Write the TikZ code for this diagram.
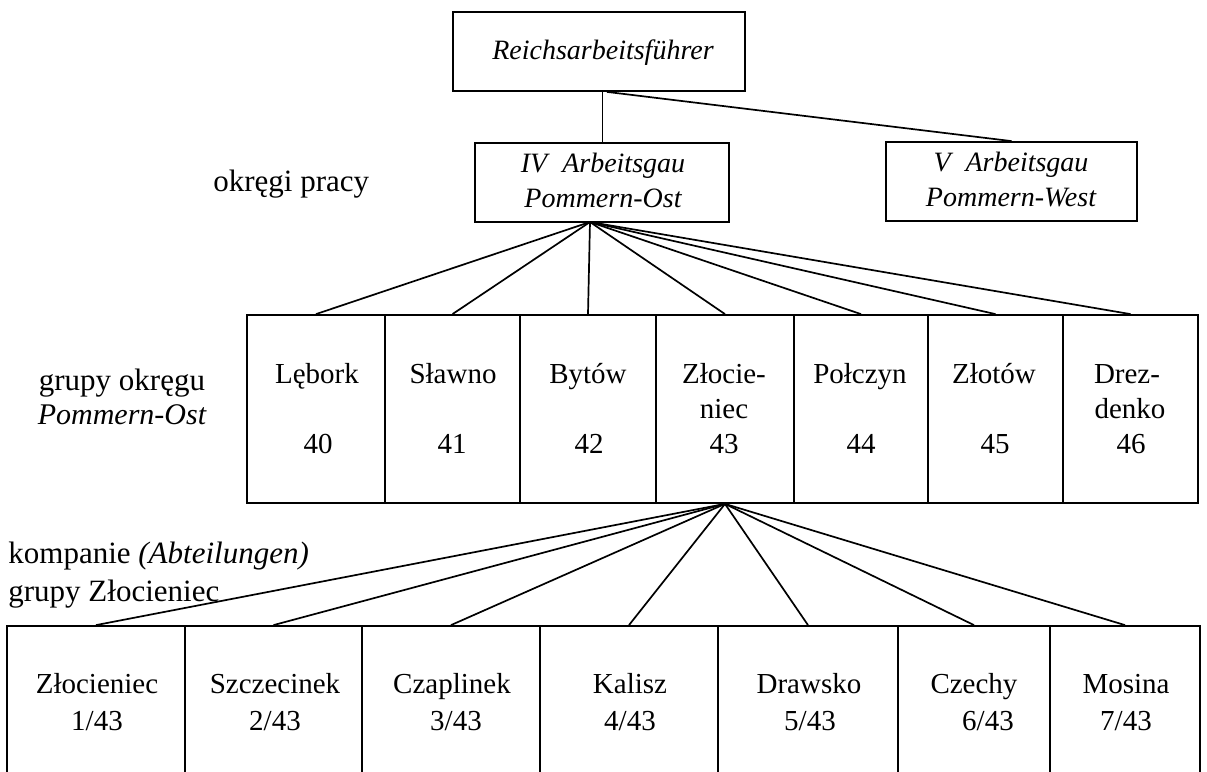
\documentclass[tikz,border=0pt]{standalone}
\usepackage{fontspec}
\setmainfont{Liberation Serif}
\begin{document}
\begin{tikzpicture}[x=0.5pt,y=-0.5pt,
  box/.style={draw,line width=0.9pt,inner sep=0pt,rectangle},
  con/.style={line width=0.85pt},
  thincon/.style={line width=0.5pt},
  itl/.style={font=\fontsize{14}{17.5}\selectfont\itshape,align=center,inner sep=0pt},
  lbl/.style={font=\fontsize{15.5}{17.5}\selectfont,inner sep=0pt},
  ct/.style={font=\fontsize{14.5}{17.5}\selectfont,inner sep=0pt,anchor=base},
]
\useasboundingbox (0,0) rectangle (1207,772);
\clip (0,0) rectangle (1207,772);

% top boxes
\node[box,minimum width=146pt,minimum height=39.5pt] (rf) at (599,51.5) {};
\node[itl] (rft) at (603,53) {Reichsarbeitsführer};
\node[box,minimum width=127pt,minimum height=39.5pt] (iv) at (602,182.5) {};
\node[itl] (ivt) at (603,180) {IV\hspace{4pt} Arbeitsgau\\Pommern-Ost};
\node[box,minimum width=125.5pt,minimum height=39.5pt] (v) at (1011.5,181.5) {};
\node[itl] (vt) at (1011,179) {V\hspace{4pt} Arbeitsgau\\Pommern-West};

% group row cells
\foreach \n/\c/\w in {g1/316/69pt,g2/452.5/67.5pt,g3/588/68pt,g4/725/69pt,g5/861/67pt,g6/995.5/67.5pt,g7/1130.5/67.5pt}
  \node[box,minimum width=\w,minimum height=94pt] (\n) at (\c,409) {};

% group texts
\node[ct] (g1a) at (317,383) {Lębork};
\node[ct] (g1b) at (318,453) {40};
\node[ct] (g2a) at (453,383) {Sławno};
\node[ct] (g2b) at (452,453) {41};
\node[ct] (g3a) at (588,383) {Bytów};
\node[ct] (g3b) at (589,453) {42};
\node[ct] (g4a) at (724,383) {Złocie-};
\node[ct] (g4b) at (724,418) {niec};
\node[ct] (g4c) at (724,453) {43};
\node[ct] (g5a) at (860,383) {Połczyn};
\node[ct] (g5b) at (861,453) {44};
\node[ct] (g6a) at (994,383) {Złotów};
\node[ct] (g6b) at (995,453) {45};
\node[ct] (g7a) at (1127,383) {Drez-};
\node[ct] (g7b) at (1130,418) {denko};
\node[ct] (g7c) at (1131,453) {46};

% bottom row cells (open at the bottom, cut by the frame)
\foreach \n/\c/\w in {k1/96/89pt,k2/273.5/88.5pt,k3/451/89pt,k4/629/89pt,k5/808/90pt,k6/974/76pt,k7/1125/75pt}
  \node[box,minimum width=\w,minimum height=102pt] (\n) at (\c,728) {};

% bottom texts
\node[ct] (k1a) at (97,693) {Złocieniec};
\node[ct] (k1b) at (97,730) {1/43};
\node[ct] (k2a) at (275,693) {Szczecinek};
\node[ct] (k2b) at (275,730) {2/43};
\node[ct] (k3a) at (452,693) {Czaplinek};
\node[ct] (k3b) at (456,730) {3/43};
\node[ct] (k4a) at (630,693) {Kalisz};
\node[ct] (k4b) at (630,730) {4/43};
\node[ct] (k5a) at (809,693) {Drawsko};
\node[ct] (k5b) at (810,730) {5/43};
\node[ct] (k6a) at (974,693) {Czechy};
\node[ct] (k6b) at (988,730) {6/43};
\node[ct] (k7a) at (1126,693) {Mosina};
\node[ct] (k7b) at (1126,730) {7/43};

% side labels
\node[lbl,anchor=base west] (l1) at (213,191) {okręgi pracy};
\node[lbl,anchor=base] (l2) at (122,390) {grupy okręgu};
\node[lbl,anchor=base,font=\fontsize{15}{17.5}\selectfont\itshape] (l3) at (122,424) {Pommern-Ost};
\node[lbl,anchor=base west] (l4) at (8,563) {kompanie \textit{(Abteilungen)}};
\node[lbl,anchor=base west] (l5) at (8,601) {grupy Złocieniec};

% connectors
\draw[thincon] (rf.south -| iv.north) -- (iv.north);
\draw[con] ([xshift=4pt]rf.south) -- (v.north);
\coordinate (a1) at (590,222);
\foreach \g in {g1,g2,g3,g4,g5,g6,g7}
  \draw[con] (a1) -- (\g.north);
\foreach \k in {k1,k2,k3,k4,k5,k6,k7}
  \draw[con] (g4.south) -- (\k.north);
\end{tikzpicture}
\end{document}
